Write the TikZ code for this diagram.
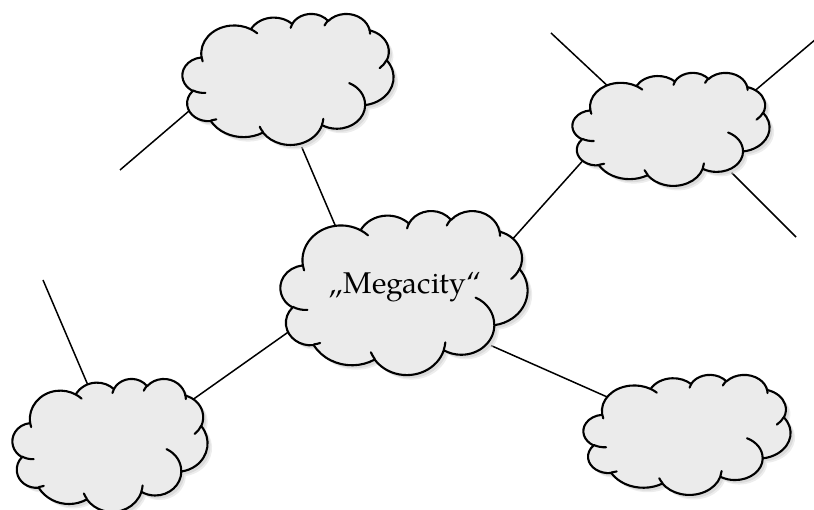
\documentclass[tikz,border=0pt]{standalone}
\usepackage{fontspec}
\setmainfont{TeX Gyre Pagella}

% Cloud outline: a chain of elliptic arcs on a 43.2 x 43.2 grid (y downwards).
% Each arc is given as {x radius}{y radius}{start angle}{sweep}, the angles
% being geometric angles, turned into parametric ones by the arc style below.
\newcommand\cloudoutline{(3.900,14.370)
  arc[ca={6.753}{9.190}{-190.4875}{123.7805}]
  arc[ca={5.333}{7.267}{-144.1024}{89.9452}]
  arc[ca={4.365}{5.945}{-145.8079}{99.7230}]
  arc[ca={4.857}{6.595}{-130.9861}{117.2417}]
  arc[ca={5.333}{7.273}{-78.7089}{109.0269}]
  arc[ca={6.775}{9.220}{-46.2673}{130.2690}]
  arc[ca={5.785}{7.867}{0.6250}{114.0333}]
  arc[ca={6.752}{9.215}{22.4516}{115.1726}]
  arc[ca={7.720}{10.543}{66.2426}{75.7110}]
  arc[ca={4.360}{5.918}{-274.9421}{146.7356}]
  arc[ca={4.345}{5.945}{-246.8285}{152.5189}]
  -- cycle}

% The small inner folds between the puffs.
\newcommand\cloudfolds{
  (4.693,26.177) arc[ca={4.345}{5.945}{86.7420}{26.4295}]
  (6.928,34.899) arc[ca={4.360}{5.918}{73.6105}{11.4475}]
  (16.478,39.090) arc[ca={6.752}{9.215}{137.6242}{14.0811}]
  (28.827,34.751) arc[ca={6.752}{9.215}{6.4533}{15.9984}]
  (34.129,22.954) arc[ca={5.785}{7.867}{-70.2924}{70.9174}]
  (41.798,15.354) arc[ca={5.333}{7.273}{30.3180}{27.7515}]
  (38.324,5.426) arc[ca={4.857}{6.595}{-13.7443}{14.8589}]
  (29.078,3.952) arc[ca={4.857}{6.595}{-149.1815}{18.1954}]
  (22.141,4.720) arc[ca={4.365}{5.945}{-163.4943}{17.6864}]
  (14.000,5.192) arc[ca={6.753}{9.190}{-66.7070}{12.3194}]
  (4.127,15.789) arc[ca={6.753}{9.190}{157.6544}{11.8582}]}

% \cloud{name}{centre x}{centre y}{width}{height}
\newcommand\cloud[5]{%
  \node[cloudbox, minimum width=#4pt, minimum height=#5pt] (#1) at (#2,#3) {};
  \pgfmathsetmacro\cloudxu{#4/43.2}%
  \pgfmathsetmacro\cloudyu{-#5/43.2}%
  \begin{scope}[shift={(#1.north west)}, x=\cloudxu pt, y=\cloudyu pt]
    \fill[cloudshadow, opacity=0.5, xshift=4.5pt, yshift=-4.5pt] \cloudoutline;
    \fill[cloudshadow, xshift=3pt, yshift=-3pt] \cloudoutline;
    \filldraw[cloudbody] \cloudoutline;
    \draw[cloudedge] \cloudfolds;
  \end{scope}}

\begin{document}
\begin{tikzpicture}[x=1pt, y=1pt,
  declare function={
    pang(\ca,\cw,\ch)=atan2(\cw*sin(\ca),\ch*cos(\ca));
    pdel(\da,\dd,\dw,\dh)=(atan2(\dw*sin(\da+\dd),\dh*cos(\da+\dd))-atan2(\dw*sin(\da),\dh*cos(\da)))
      +360*round((\dd-(atan2(\dw*sin(\da+\dd),\dh*cos(\da+\dd))-atan2(\dw*sin(\da),\dh*cos(\da))))/360);
  },
  ca/.style n args={4}{x radius=#1, y radius=#2,
    start angle={pang(#3,#1,#2)}, delta angle={pdel(#3,#4,#1,#2)}},
  cloudbox/.style={rectangle, inner sep=0pt, outer sep=0pt},
  cloudedge/.style={line width=2.1pt, line join=round, line cap=round, draw=black},
  cloudbody/.style={cloudedge, fill=black!8},
  cloudshadow/.style={fill=black!14},
  link/.style={line width=1.5pt, draw=black},
  label/.style={font=\fontsize{30}{36}\selectfont, anchor=base, inner sep=0pt},
]
\useasboundingbox (0,0) rectangle (814,510);

% connector ends: free ends and points inside the clouds
\coordinate (f1) at (120,340);
\coordinate (f3) at (551,477);
\coordinate (f4) at (816,471);
\coordinate (f5) at (796,273);
\coordinate (f8) at (43,230);
\coordinate (tl-f) at (196,405);
\coordinate (tl-m) at (297,374);
\coordinate (mc-t) at (338,278);
\coordinate (tr-a) at (612,420);
\coordinate (tr-b) at (751,416);
\coordinate (tr-c) at (724,345);
\coordinate (tr-m) at (587,354);
\coordinate (mc-r) at (510,268);
\coordinate (mc-l) at (294,182);
\coordinate (bl-m) at (188,107);
\coordinate (bl-f) at (90,120);
\coordinate (mc-b) at (483,168);
\coordinate (br-m) at (614,110);

% connectors, drawn first so the clouds cover their ends
\draw[link] (f1) -- (tl-f);
\draw[link] (tl-m) -- (mc-t);
\draw[link] (f3) -- (tr-a);
\draw[link] (f4) -- (tr-b);
\draw[link] (f5) -- (tr-c);
\draw[link] (tr-m) -- (mc-r);
\draw[link] (mc-l) -- (bl-m);
\draw[link] (f8) -- (bl-f);
\draw[link] (mc-b) -- (br-m);

% clouds
\cloud{tl}{288}{431}{211}{131}
\cloud{tr}{671}{381}{197}{113}
\cloud{mc}{404}{217.5}{247}{164}
\cloud{bl}{110}{65}{195}{133}
\cloud{br}{687}{75.5}{207}{120}

\node[label] (mctext) at (405,216) {„Megacity“};
\end{tikzpicture}
\end{document}
